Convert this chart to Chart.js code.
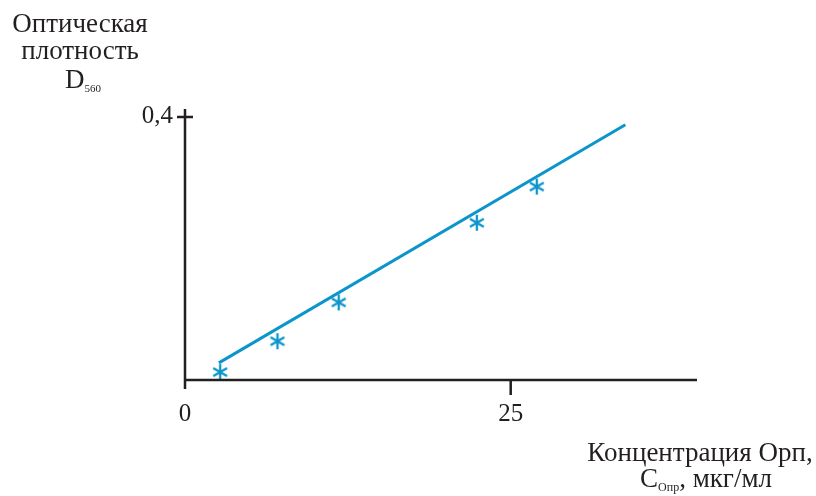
<!DOCTYPE html>
<html>
<head>
<meta charset="utf-8">
<script src="https://cdn.jsdelivr.net/npm/chart.js@4/dist/chart.umd.min.js"></script>
<style>
  html, body { margin: 0; padding: 0; background: #fff; }
  #wrap { width: 816px; height: 496px; }
</style>
</head>
<body>
<div id="wrap"><canvas id="c" width="816" height="496"></canvas></div>
<script>
// Measured points: concentration (µg/ml) vs optical density
const concX = [2.7, 7.1, 11.8, 22.4, 27.0];
const densityY = [0.012, 0.059, 0.118, 0.239, 0.294];

// Calibration line end points
const fitX = [2.6, 33.8];
const fitY = [0.026, 0.388];

// Tick values shown on the axes
const xTicks = [0, 25];
const yTicks = [0.4];

const INK = '#231f20';
const BLUE = '#0b95cb';
const SERIF = '"Liberation Serif", "DejaVu Serif", serif';

// Six-armed asterisk marker
function asterisk(size, color) {
  const c = document.createElement('canvas');
  c.width = size; c.height = size;
  const g = c.getContext('2d');
  const r = size / 2 - 1, m = size / 2;
  g.strokeStyle = color; g.lineWidth = 2.3; g.lineCap = 'butt';
  g.beginPath();
  for (let k = 0; k < 3; k++) {
    const a = Math.PI / 2 + k * Math.PI / 3;
    g.moveTo(m + r * Math.cos(a), m + r * Math.sin(a));
    g.lineTo(m - r * Math.cos(a), m - r * Math.sin(a));
  }
  g.stroke();
  return c;
}

// Axis lines and tick marks drawn from the chart's own scales
const axesPlugin = {
  id: 'axes',
  afterDatasetsDraw(chart) {
    const { ctx, chartArea, scales } = chart;
    const xs = scales.x, ys = scales.y;
    const x0 = xs.getPixelForValue(0);
    const yBase = ys.getPixelForValue(0);
    ctx.save();
    ctx.strokeStyle = INK;
    ctx.lineWidth = 2.5;
    ctx.lineCap = 'butt';
    ctx.beginPath();
    // y axis, running a little below the x axis
    ctx.moveTo(x0, chartArea.top);
    ctx.lineTo(x0, yBase + 9);
    // x axis
    ctx.moveTo(x0, yBase);
    ctx.lineTo(chartArea.right, yBase);
    // y ticks cross the axis
    yTicks.forEach(v => {
      const p = ys.getPixelForValue(v);
      ctx.moveTo(x0 - 8, p);
      ctx.lineTo(x0 + 8, p);
    });
    // x ticks point downward
    xTicks.forEach(v => {
      if (v === 0) return;
      const p = xs.getPixelForValue(v);
      ctx.moveTo(p, yBase);
      ctx.lineTo(p, yBase + 15);
    });
    ctx.stroke();
    ctx.restore();
  },
  afterDraw(chart) {
    const ctx = chart.ctx;
    ctx.save();
    ctx.fillStyle = INK;
    ctx.textBaseline = 'alphabetic';
    ctx.font = '27px ' + SERIF;
    ctx.textAlign = 'center';
    ctx.fillText('Оптическая', 80, 32);
    ctx.fillText('плотность', 80, 59);
    // D with subscript 560
    ctx.textAlign = 'left';
    const dW = ctx.measureText('D').width;
    ctx.font = '11px ' + SERIF;
    const sW = ctx.measureText('560').width;
    const dx = 83 - (dW + sW) / 2;
    ctx.font = '27px ' + SERIF;
    ctx.fillText('D', dx, 88);
    ctx.font = '11px ' + SERIF;
    ctx.fillText('560', dx + dW, 92);

    // x axis title
    ctx.font = '27px ' + SERIF;
    ctx.textAlign = 'center';
    ctx.fillText('Концентрация Орп,', 700, 461);
    ctx.textAlign = 'left';
    const cW = ctx.measureText('C').width;
    ctx.font = '12px ' + SERIF;
    const oW = ctx.measureText('Опр').width;
    ctx.font = '27px ' + SERIF;
    const tail = ', мкг/мл';
    const tW = ctx.measureText(tail).width;
    let sx = 706 - (cW + oW + tW) / 2;
    ctx.fillText('C', sx, 487);
    ctx.font = '12px ' + SERIF;
    ctx.fillText('Опр', sx + cW, 491);
    ctx.font = '27px ' + SERIF;
    ctx.fillText(tail, sx + cW + oW, 487);
    ctx.restore();
  }
};

const fmt = v => String(v).replace('.', ',');

new Chart(document.getElementById('c'), {
  type: 'scatter',
  data: {
    datasets: [
      {
        type: 'line',
        data: fitX.map((x, i) => ({ x, y: fitY[i] })),
        borderColor: BLUE,
        borderWidth: 3,
        pointRadius: 0,
        fill: false,
        tension: 0
      },
      {
        data: concX.map((x, i) => ({ x, y: densityY[i] })),
        pointStyle: asterisk(18, BLUE),
        pointRadius: 9,
        showLine: false
      }
    ]
  },
  options: {
    responsive: false,
    animation: false,
    devicePixelRatio: 1,
    layout: { padding: { left: 0, right: 119, top: 109, bottom: 0 } },
    plugins: { legend: { display: false }, tooltip: { enabled: false } },
    scales: {
      x: {
        type: 'linear',
        min: 0,
        max: 39.3,
        grid: { display: false, drawTicks: false },
        border: { display: false },
        afterBuildTicks: s => { s.ticks = xTicks.map(v => ({ value: v })); },
        afterFit: s => { s.height = 116; },
        ticks: {
          color: INK,
          font: { family: SERIF, size: 25 },
          padding: 19,
          maxRotation: 0,
          callback: v => fmt(v)
        }
      },
      y: {
        type: 'linear',
        min: 0,
        max: 0.412,
        grid: { display: false, drawTicks: false },
        border: { display: false },
        afterBuildTicks: s => { s.ticks = yTicks.map(v => ({ value: v })); },
        afterFit: s => { s.width = 185; },
        ticks: {
          color: INK,
          font: { family: SERIF, size: 25 },
          padding: 12,
          callback: v => fmt(v)
        }
      }
    }
  },
  plugins: [axesPlugin]
});
</script>
</body>
</html>
